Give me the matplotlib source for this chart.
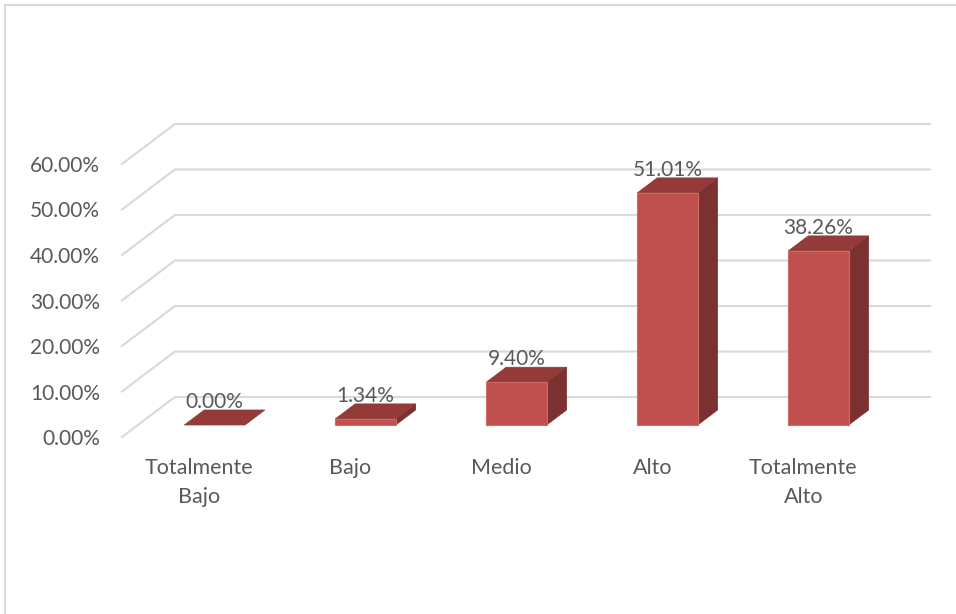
import matplotlib
matplotlib.use("Agg")
import matplotlib.pyplot as plt
from matplotlib.patches import Polygon, Rectangle
from matplotlib.lines import Line2D

categories = ["Totalmente\nBajo", "Bajo", "Medio", "Alto", "Totalmente\nAlto"]
values = [0.00, 1.34, 9.40, 51.01, 38.26]
ticks = [0, 10, 20, 30, 40, 50, 60]

FRONT = "#C0504D"
TOP = "#943A38"
SIDE = "#7B3130"
GRID = "#D9D9D9"
TEXT = "#595959"

# fake 3d (oblique) offsets, in data units
BAR_W = 0.40
BAR_DX, BAR_DY = 0.132, 3.3
FLOOR_FRONT, FLOOR_BACK = -2.64, 6.15   # floor front edge / back wall vs bar plane
FRONT_X0 = -0.613
WALL_X0, WALL_X1 = -0.262, 4.74

plt.rcParams["font.family"] = ["Lato", "DejaVu Sans"]

fig = plt.figure(figsize=(9.56, 6.14), dpi=100)
ax = fig.add_axes([0.0664, 0.1596, 0.9161, 0.6818])
ax.set_xlim(-1.0, 4.8)
ax.set_ylim(-20, 72)
ax.axis("off")

# back wall + floor gridlines
for v in ticks:
    ax.plot([FRONT_X0, WALL_X0, WALL_X1],
            [v + FLOOR_FRONT, v + FLOOR_BACK, v + FLOOR_BACK],
            color=GRID, lw=1.5, zorder=1, solid_joinstyle="miter")
    ax.text(FRONT_X0 - 0.145, v + FLOOR_FRONT, f"{v:.2f}%", ha="right",
            va="center_baseline", fontsize=15, color=TEXT)

for i, v in enumerate(values):
    x0 = i - BAR_W / 2
    x1 = i + BAR_W / 2
    side = Polygon([(x1, 0), (x1 + BAR_DX, BAR_DY), (x1 + BAR_DX, v + BAR_DY), (x1, v)],
                   closed=True, facecolor=SIDE, edgecolor=SIDE, lw=0.5, zorder=3)
    top = Polygon([(x0, v), (x1, v), (x1 + BAR_DX, v + BAR_DY), (x0 + BAR_DX, v + BAR_DY)],
                  closed=True, facecolor=TOP, edgecolor=TOP, lw=0.5, zorder=3)
    ax.add_patch(side)
    ax.add_patch(top)
    if v > 0:
        ax.add_patch(Rectangle((x0, 0), BAR_W, v, facecolor=FRONT,
                               edgecolor="#D06A66", lw=0.8, zorder=4))
    ax.text(i, v + BAR_DY + 2.2, f"{v:.2f}%", ha="center", va="center_baseline",
            fontsize=15, color=TEXT, zorder=5)
    ax.text(i - 0.1, -7.2, categories[i], ha="center", va="top", multialignment="center",
            fontsize=15.5, color=TEXT, linespacing=1.6)

# chart area border (left and top edges visible)
fig.add_artist(Line2D([5 / 956, 5 / 956], [0, 1 - 5 / 614], transform=fig.transFigure,
                      color=GRID, lw=1.5))
fig.add_artist(Line2D([5 / 956, 1], [1 - 5 / 614, 1 - 5 / 614], transform=fig.transFigure,
                      color=GRID, lw=1.5))

fig.savefig("out.png", dpi=100, facecolor="white")
